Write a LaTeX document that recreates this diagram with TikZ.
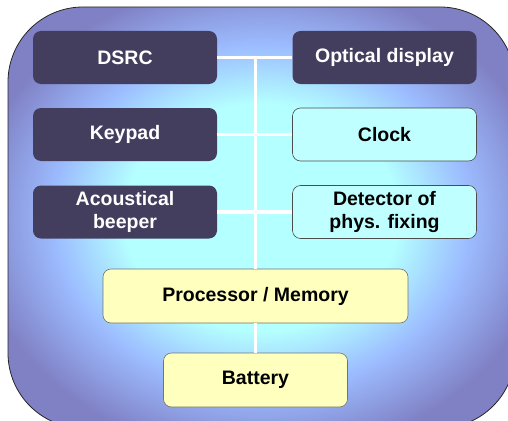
\documentclass[tikz,border=0pt]{standalone}
\usepackage{fontspec}
\setmainfont{Liberation Sans}
\usetikzlibrary{positioning, calc}
\definecolor{unitDark}  {HTML}{433D5E}
\definecolor{unitCyan}  {HTML}{C0FFFF}
\definecolor{unitYellow}{HTML}{FFFFBE}
\definecolor{bgCyan}    {HTML}{B4FFFF}
\definecolor{bgBlue}    {HTML}{9CBCFF}
\definecolor{bgPurple}  {HTML}{8080C4}
\pgfdeclareradialshading{obuShade}{\pgfpoint{0bp}{0bp}}{%
  color(0bp)=(bgCyan); color(13.5bp)=(bgCyan); color(20.5bp)=(bgBlue);
  color(28.5bp)=(bgPurple); color(50bp)=(bgPurple)}

\begin{document}
\begin{tikzpicture}[x=1pt, y=-1pt,
    font=\bfseries\fontsize{19.5}{23.5}\selectfont,
    unit/.style={rounded corners=8pt, minimum width=184pt, minimum height=53pt,
                 align=center, inner sep=2pt},
    darkunit/.style={unit, fill=unitDark, text=white},
    lightunit/.style={unit, fill=unitCyan, draw=black!70, line width=0.6pt},
    coreunit/.style={unit, fill=unitYellow, draw=black!55, line width=0.6pt},
    bus/.style={draw=white, line width=3.5pt}]
  \useasboundingbox (0,0) rectangle (508,420);
  % housing of the on-board unit
  \begin{scope}
    \clip (0,0) rectangle (508,420);
    \path[shading=obuShade, draw=black!85, line width=0.8pt, rounded corners=75pt]
      (8,7) rectangle (515,428);
  \end{scope}
  % peripheral units
  \foreach \name/\ypos/\txt in {dsrc/57.5/DSRC, keypad/134.5/Keypad,
                                beeper/212/{Acoustical\\beeper}}{
    \node[darkunit] (\name) at (125,\ypos) {\txt};
  }
  \node[darkunit]  (optical)  at (384.5,57.5) {Optical display};
  \node[lightunit] (clock)    at (384.5,134.5) {Clock};
  \node[lightunit] (detector) at (384.5,212) {Detector of\\phys. fixing};
  % core
  \node[coreunit, minimum width=305pt, minimum height=54pt] (proc) at (255.5,296) {Processor / Memory};
  \node[coreunit, minimum height=54pt] (battery) at (255.5,380) {Battery};
  % bus
  \draw[bus] (dsrc) -- (optical);
  \draw[bus] (keypad) -- (clock);
  \draw[bus] (beeper) -- (detector);
  \draw[bus] (dsrc -| proc) -- (proc);
  \draw[bus] (proc) -- (battery);
\end{tikzpicture}
\end{document}
